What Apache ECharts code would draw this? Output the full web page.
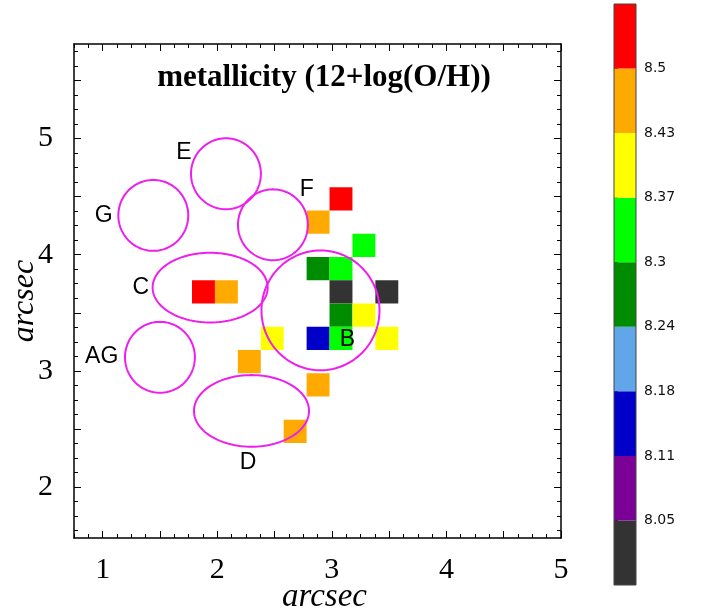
<!DOCTYPE html>
<html><head><meta charset="utf-8">
<script src="https://cdn.jsdelivr.net/npm/echarts@6/dist/echarts.min.js"></script>
<style>html,body{margin:0;padding:0;background:#fff}#c{width:702px;height:612px}</style>
</head><body><div id="c"></div>
<script>
// ---------- data ----------
const titleText = 'metallicity (12+log(O/H))';
const axisName = 'arcsec';
const xRange = [0.75, 5.0];
const yRange = [1.5625, 5.8125];
const xLabelValues = [1, 2, 3, 4, 5];
const yLabelValues = [2, 3, 4, 5];

// spaxels (0.2" each): centre x, centre y, 12+log(O/H)
const spaxX = [3.08, 2.88, 3.28, 2.88, 3.08, 3.08, 3.48, 3.08, 3.28, 2.48, 2.88, 3.08, 3.48, 2.28, 2.88, 2.68, 1.88, 2.08];
const spaxY = [4.48, 4.28, 4.08, 3.88, 3.88, 3.68, 3.68, 3.48, 3.48, 3.28, 3.28, 3.28, 3.28, 3.08, 2.88, 2.48, 3.68, 3.68];
const spaxZ = [8.53, 8.46, 8.33, 8.27, 8.33, 8.00, 8.00, 8.27, 8.40, 8.40, 8.14, 8.33, 8.40, 8.46, 8.46, 8.46, 8.53, 8.46];
const spaxSize = 0.2;

// colour scale
const cbTickLabels = ['8.05', '8.11', '8.18', '8.24', '8.3', '8.37', '8.43', '8.5'];
const cbBounds = [8.05, 8.11, 8.18, 8.24, 8.30, 8.37, 8.43, 8.50];
const cbColors = ['#333333', '#7a0096', '#0000c8', '#60a6e8', '#008c00', '#00ff00', '#ffff00', '#ffaa00', '#ff0000'];

// apertures
const apX  = [2.076, 1.442, 2.486, 1.938, 1.500, 2.299, 2.901];
const apY  = [4.696, 4.338, 4.257, 3.717, 3.117, 2.656, 3.521];
const apRx = [0.305, 0.305, 0.305, 0.502, 0.305, 0.502, 0.515];
const apRy = [0.305, 0.305, 0.305, 0.300, 0.305, 0.308, 0.515];

// aperture labels
const lblText = ['E', 'G', 'F', 'C', 'AG', 'B', 'D'];
const lblX = [1.710, 1.010, 2.781, 1.333, 0.992, 3.137, 2.268];
const lblY = [4.879, 4.334, 4.563, 3.719, 3.121, 3.265, 2.208];

// ---------- helpers ----------
function colorOf(v) {
  let k = 0;
  while (k < cbBounds.length && v >= cbBounds[k]) k++;
  return cbColors[k];
}
function steps(a, b, s) { const r = []; for (let v = Math.ceil(a / s - 1e-9) * s; v <= b + 1e-9; v += s) r.push(+v.toFixed(4)); return r; }
const xMajor = steps(xRange[0], xRange[1], 0.5);
const yMajor = steps(yRange[0], yRange[1], 0.5);
const xMinor = steps(xRange[0], xRange[1], 0.125);
const yMinor = steps(yRange[0], yRange[1], 0.125);

const serif = 'Liberation Serif';
const G = {left: 74, top: 44, width: 487, height: 494, outerBoundsMode: 'none', containLabel: false};

const fmtInt = v => (Math.abs(v - Math.round(v)) < 1e-6 ? String(Math.round(v)) : '');

function majorX(pos, withLabel) {
  return {
    type: 'value', gridIndex: 0, position: pos, min: xRange[0], max: xRange[1],
    axisLine: {show: true, onZero: false, lineStyle: {color: '#000', width: 1.5}},
    axisTick: {show: true, inside: true, length: 7, customValues: xMajor, lineStyle: {color: '#000', width: 1}},
    axisLabel: {show: withLabel, customValues: xLabelValues, formatter: fmtInt, margin: 17,
      fontFamily: serif, fontSize: 30, color: '#000'},
    splitLine: {show: false},
    name: withLabel ? axisName : '', nameLocation: 'middle', nameGap: 43, nameMoveOverlap: false,
    nameTextStyle: {fontFamily: serif, fontStyle: 'italic', fontSize: 33, color: '#000', padding: [0, 0, 0, 14]}
  };
}
function majorY(pos, withLabel) {
  return {
    type: 'value', gridIndex: 0, position: pos, min: yRange[0], max: yRange[1],
    axisLine: {show: true, onZero: false, lineStyle: {color: '#000', width: 1.5}},
    axisTick: {show: true, inside: true, length: 7, customValues: yMajor, lineStyle: {color: '#000', width: 1}},
    axisLabel: {show: withLabel, customValues: yLabelValues, formatter: fmtInt, margin: 21,
      fontFamily: serif, fontSize: 30, color: '#000'},
    splitLine: {show: false},
    name: withLabel ? axisName : '', nameLocation: 'middle', nameGap: 33, nameRotate: 90, nameMoveOverlap: false,
    nameTextStyle: {fontFamily: serif, fontStyle: 'italic', fontSize: 32, color: '#000', padding: [0, 20, 0, 0]}
  };
}
function minorAxis(isX, pos) {
  return {
    type: 'value', gridIndex: 1, position: pos,
    min: isX ? xRange[0] : yRange[0], max: isX ? xRange[1] : yRange[1],
    axisLine: {show: false, onZero: false},
    axisTick: {show: true, inside: true, length: 4, customValues: isX ? xMinor : yMinor, lineStyle: {color: '#000', width: 1}},
    axisLabel: {show: false}, splitLine: {show: false}
  };
}

const chart = echarts.init(document.getElementById('c'), null, {renderer: 'canvas'});
chart.setOption({
  animation: false,
  backgroundColor: '#fff',
  graphic: [{
    type: 'text', x: 324, y: 78, z: 10,
    style: {text: titleText, align: 'center', verticalAlign: 'middle', fill: '#000',
      font: 'bold 31px "Liberation Serif"'}
  }],
  grid: [
    Object.assign({}, G),
    Object.assign({}, G),
    {left: 614, top: 4, width: 22, height: 581, outerBoundsMode: 'none', containLabel: false}
  ],
  xAxis: [
    majorX('bottom', true), majorX('top', false),
    minorAxis(true, 'bottom'), minorAxis(true, 'top'),
    {type: 'value', gridIndex: 2, min: 0, max: 1, show: false}
  ],
  yAxis: [
    majorY('left', true), majorY('right', false),
    minorAxis(false, 'left'), minorAxis(false, 'right'),
    {type: 'value', gridIndex: 2, min: 0, max: cbColors.length, interval: 1, position: 'right',
      axisLine: {show: false},
      axisTick: {show: true, inside: false, length: 4, customValues: cbTickLabels.map((_, i) => i + 1), lineStyle: {color: '#222', width: 1}},
      axisLabel: {show: true, customValues: cbTickLabels.map((_, i) => i + 1), margin: 8,
        formatter: v => cbTickLabels[Math.round(v) - 1] || '',
        fontFamily: 'DejaVu Sans', fontSize: 14, color: '#111'},
      splitLine: {show: false}}
  ],
  series: [
    {
      type: 'custom', name: 'spaxels', xAxisIndex: 0, yAxisIndex: 0, z: 2,
      data: spaxX.map((x, i) => [x, spaxY[i], spaxZ[i]]),
      renderItem: (params, api) => {
        const x = api.value(0), y = api.value(1), z = api.value(2);
        const h = spaxSize / 2;
        const p0 = api.coord([x - h, y + h]);
        const p1 = api.coord([x + h, y - h]);
        return {type: 'rect', shape: {x: p0[0], y: p0[1], width: p1[0] - p0[0], height: p1[1] - p0[1]},
          style: {fill: colorOf(z)}};
      }
    },
    {
      type: 'custom', name: 'apertures', xAxisIndex: 0, yAxisIndex: 0, z: 3,
      data: apX.map((x, i) => [x, apY[i], apRx[i], apRy[i]]),
      renderItem: (params, api) => {
        const cx = api.value(0), cy = api.value(1), rx = api.value(2), ry = api.value(3);
        const pts = [];
        for (let k = 0; k < 120; k++) {
          const t = k / 120 * Math.PI * 2;
          pts.push(api.coord([cx + rx * Math.cos(t), cy + ry * Math.sin(t)]));
        }
        return {type: 'polygon', shape: {points: pts},
          style: {fill: null, stroke: '#ee1fee', lineWidth: 2}};
      }
    },
    {
      type: 'custom', name: 'labels', xAxisIndex: 0, yAxisIndex: 0, z: 4,
      data: lblX.map((x, i) => [x, lblY[i]]),
      renderItem: (params, api) => {
        const p = api.coord([api.value(0), api.value(1)]);
        return {type: 'text', x: p[0], y: p[1],
          style: {text: lblText[params.dataIndex], align: 'center', verticalAlign: 'middle',
            fill: '#000', fontSize: 23, fontFamily: 'Liberation Sans'}};
      }
    },
    {
      type: 'custom', name: 'colorbar', xAxisIndex: 4, yAxisIndex: 4, z: 2,
      data: cbColors.map((c, i) => [0.5, i + 0.5]),
      renderItem: (params, api) => {
        const i = params.dataIndex;
        const p0 = api.coord([0, i + 1]);
        const p1 = api.coord([1, i]);
        return {type: 'rect', shape: {x: p0[0], y: p0[1], width: p1[0] - p0[0], height: p1[1] - p0[1]},
          style: {fill: cbColors[i]}};
      }
    },
    {
      type: 'custom', name: 'colorbarFrame', xAxisIndex: 4, yAxisIndex: 4, z: 3,
      data: [[0.5, cbColors.length / 2]],
      renderItem: (params, api) => {
        const p0 = api.coord([0, cbColors.length]);
        const p1 = api.coord([1, 0]);
        return {type: 'rect', shape: {x: p0[0], y: p0[1], width: p1[0] - p0[0], height: p1[1] - p0[1]},
          style: {fill: null, stroke: '#444', lineWidth: 1}};
      }
    }
  ]
});
</script>
</body></html>
